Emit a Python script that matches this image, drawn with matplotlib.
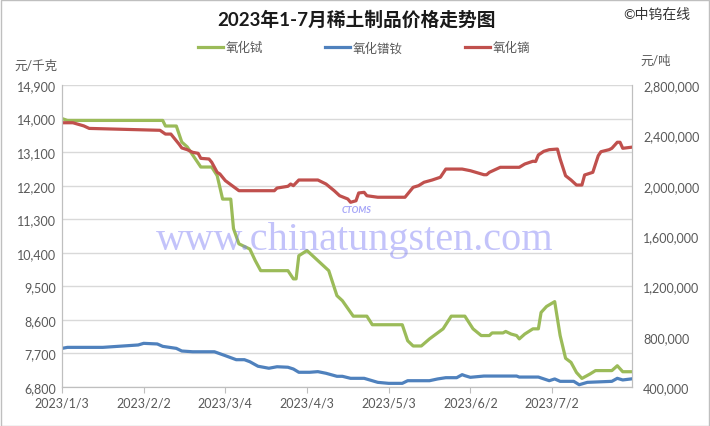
import matplotlib
matplotlib.use("Agg")
import matplotlib.pyplot as plt
from matplotlib.patches import Rectangle
from matplotlib.ticker import FuncFormatter

plt.rcParams['font.family'] = ['Lato', 'Noto Sans CJK SC', 'DejaVu Sans']

# days counted from 2023/1/3
tick_days = [0, 30, 60, 90, 120, 150, 180]
tick_labels = ['2023/1/3', '2023/2/2', '2023/3/4', '2023/4/3', '2023/5/3', '2023/6/2', '2023/7/2']

# 氧化铽, 元/千克 (left axis)
tb_days = [0, 2, 37, 38, 42, 44, 46, 51, 55, 57, 59, 62, 63, 65, 69, 71, 73, 83, 85, 86,
           87, 90, 94, 98, 101, 103, 107, 112, 114, 125, 127, 129, 132, 135, 140, 143, 148,
           151, 154, 157, 158, 162, 163, 165, 167, 168, 170, 173, 175, 176, 178, 181, 183,
           185, 187, 189, 191, 194, 196, 202, 204, 206, 209]
tb_vals = [14000, 13950, 13950, 13800, 13800, 13370, 13240, 12700, 12700, 12470, 11840, 11840, 11050, 10640, 10500, 10190, 9920, 9920, 9700, 9700,
           10320, 10460, 10190, 9920, 9250, 9115, 8700, 8700, 8470, 8470, 8040, 7900, 7900, 8090, 8360, 8700, 8700,
           8360, 8180, 8180, 8250, 8250, 8290, 8220, 8180, 8090, 8220, 8360, 8360, 8800, 8960, 9090, 8180,
           7570, 7460, 7190, 7030, 7150, 7240, 7240, 7370, 7210, 7210]

# 氧化镨钕, 元/吨 (right axis)
prnd_days = [0, 2, 15, 28, 30, 35, 37, 42, 44, 48, 56, 60, 64, 67, 69, 72, 76, 79, 83, 85,
             87, 91, 94, 97, 101, 103, 106, 111, 116, 120, 125, 127, 135, 138, 141, 145, 147,
             148, 150, 155, 167, 168, 175, 179, 181, 183, 188, 190, 193, 202, 204, 206, 209]
prnd_vals = [707000, 715000, 715000, 734000, 747000, 742000, 723000, 707000, 686000, 680000, 680000, 649000, 617000, 617000, 601000, 565000, 549000, 561000, 557000, 543000,
             517000, 517000, 522000, 509000, 485000, 485000, 469000, 469000, 437000, 429000, 429000, 450000, 450000, 464000, 474000, 474000, 498000,
             490000, 477000, 487000, 487000, 479000, 479000, 450000, 464000, 445000, 445000, 418000, 437000, 445000, 469000, 456000, 464000]

# 氧化镝, 元/吨 (right axis)
dy_days = [0, 4, 8, 10, 36, 38, 40, 43, 44, 46, 48, 50, 51, 54, 55, 57, 58, 60, 65, 78,
           79, 83, 84, 85, 87, 94, 97, 100, 102, 105, 106, 108, 109, 111, 112, 116, 126,
           129, 131, 133, 136, 139, 141, 147, 150, 155, 156, 157, 161, 168, 170, 173, 174,
           175, 177, 179, 182, 183, 185, 187, 189, 191, 192, 195, 197, 198, 201, 202, 204,
           205, 206, 209]
dy_vals = [2500000, 2500000, 2475000, 2455000, 2440000, 2410000, 2410000, 2330000, 2300000, 2286000, 2265000, 2257000, 2217000, 2212000, 2186000, 2106000, 2093000, 2040000, 1960000, 1960000,
           1981000, 1995000, 2013000, 2000000, 2045000, 2045000, 2013000, 1960000, 1920000, 1894000, 1868000, 1880000, 1942000, 1947000, 1920000, 1908000, 1908000,
           1987000, 2000000, 2027000, 2045000, 2067000, 2132000, 2132000, 2119000, 2087000, 2087000, 2106000, 2146000, 2146000, 2172000, 2194000, 2192000,
           2244000, 2273000, 2286000, 2291000, 2212000, 2079000, 2045000, 2005000, 2005000, 2085000, 2106000, 2238000, 2270000, 2286000, 2297000, 2345000,
           2345000, 2297000, 2305000]

green = '#9BBB59'
blue = '#4F81BD'
red = '#C0504D'
txt = '#595959'
grid = '#D9D9D9'

fig = plt.figure(figsize=(7.1, 4.27), dpi=100)
fig.patches.append(Rectangle((0.001, 0.001), 0.997, 0.997, transform=fig.transFigure,
                             fill=False, edgecolor='#BFBFBF', linewidth=1.0))

ax = fig.add_axes([62/710, 39/427, 570/710, 302/427])
ax2 = ax.twinx()

l1, = ax.plot(tb_days, tb_vals, color=green, linewidth=2.3, label='氧化铽')
l2, = ax2.plot(prnd_days, prnd_vals, color=blue, linewidth=2.3, label='氧化镨钕')
l3, = ax2.plot(dy_days, dy_vals, color=red, linewidth=2.3, label='氧化镝')

ax.set_xlim(0, 209.4)
ax.set_ylim(6800, 14900)
ax.set_yticks(range(6800, 14901, 900))
ax2.set_ylim(400000, 2800000)
ax2.set_yticks(range(400000, 2800001, 400000))
comma = FuncFormatter(lambda v, p: f'{int(v):,}')
ax.yaxis.set_major_formatter(comma)
ax2.yaxis.set_major_formatter(comma)

ax.set_xticks(tick_days)
ax.set_xticklabels(tick_labels)

ax.grid(axis='y', color=grid, linewidth=1.0)
ax.set_axisbelow(True)
for a in (ax, ax2):
    a.spines['top'].set_visible(False)
    for s in ('left', 'right', 'bottom'):
        a.spines[s].set_color('#BFBFBF')
ax.tick_params(axis='y', length=0, labelsize=9, labelcolor=txt, pad=4)
ax2.tick_params(axis='y', length=0, labelsize=9, labelcolor=txt, pad=8)
ax.tick_params(axis='x', length=4, color='#BFBFBF', labelsize=9, labelcolor=txt, pad=3)

fig.text(357/710, 1 - 20/427, '2023年1-7月稀土制品价格走势图', ha='center', va='center',
         fontsize=13.5, fontweight='bold', color='#1a1a1a')
fig.text(690/710, 1 - 14/427, '©中钨在线', ha='right', va='center', fontsize=10, color='#333333')
fig.text(14/710, 1 - 66/427, '元/千克', ha='left', va='center', fontsize=9, color=txt)
fig.text(640/710, 1 - 61/427, '元/吨', ha='left', va='center', fontsize=9, color=txt)

fig.legend(handles=[l1, l2, l3], loc='center', bbox_to_anchor=(364/710, 1 - 48/427), ncol=3,
           frameon=False, fontsize=9, labelcolor=txt, handlelength=2.0, handletextpad=0.2,
           columnspacing=5.0)

# watermark
fig.text(355/710, 1 - 241/427, 'www.chinatungsten.com', ha='center', va='center',
         fontsize=29, family='Liberation Serif', color='#7b7bf5', alpha=0.45)
fig.text(357/710, 1 - 211/427, 'CTOMS', ha='center', va='center', fontsize=6.5,
         fontstyle='italic', fontweight='bold', color='#7f7ff5', alpha=0.7)

fig.savefig('out.png', dpi=100)
